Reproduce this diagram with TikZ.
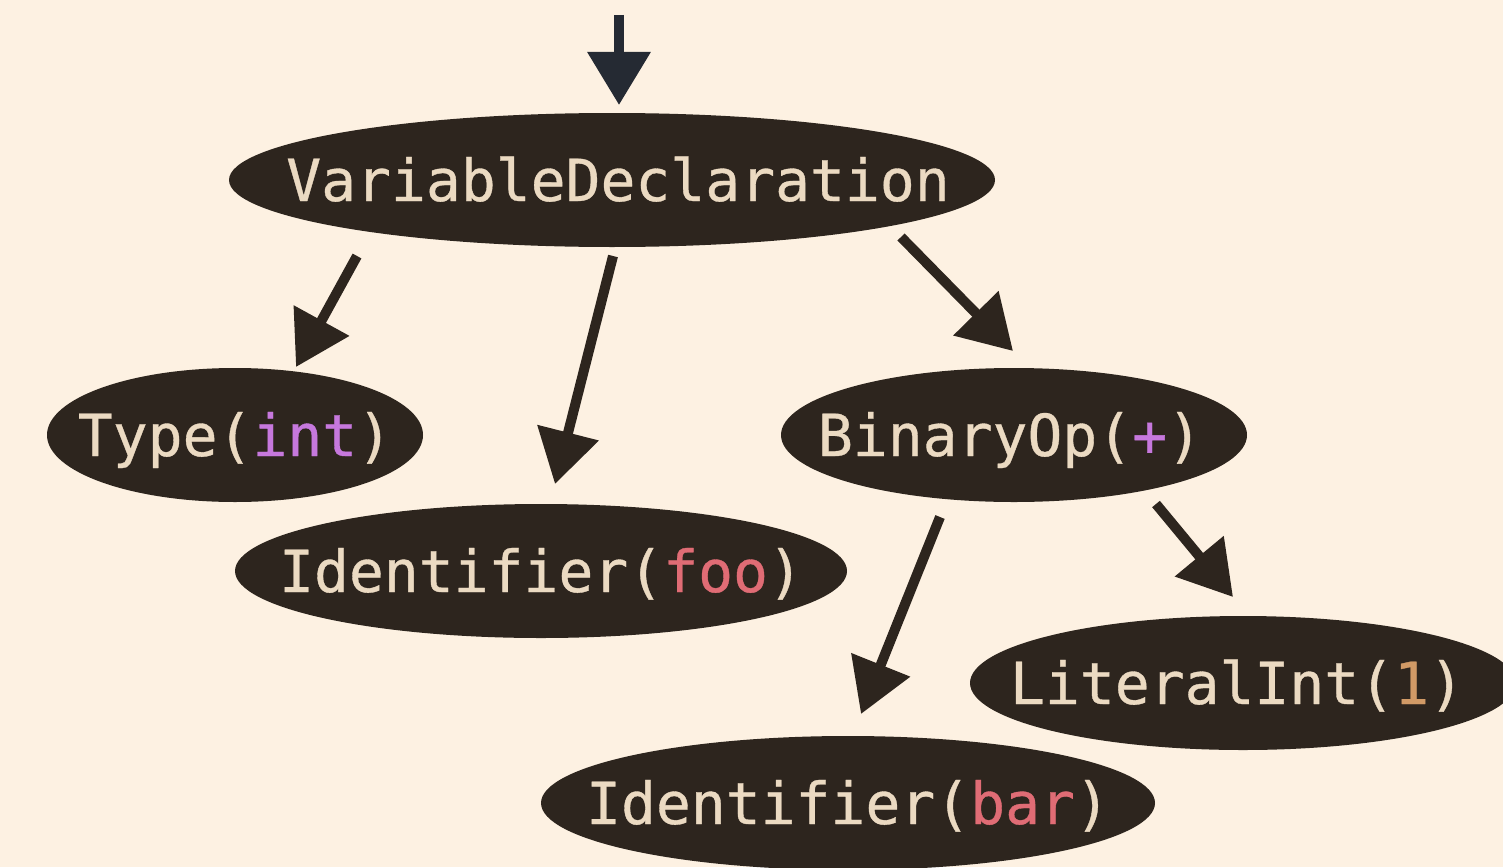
\documentclass[tikz,border=0pt]{standalone}
\usepackage{fontspec}
\newfontfamily\codefont[FakeBold=0.6]{DejaVu Sans Mono}
\usetikzlibrary{arrows.meta,calc}

\definecolor{paper}{HTML}{FDF1E2}
\definecolor{nodebg}{HTML}{2D251E}
\definecolor{ink}{HTML}{EBDAC2}
\definecolor{kw}{HTML}{C678DD}
\definecolor{ident}{HTML}{E06C75}
\definecolor{num}{HTML}{D19A66}
\definecolor{entry}{HTML}{252A33}

\tikzset{
  astlabel/.style={inner sep=0pt, text=ink, text height=42pt, text depth=0pt,
    font=\codefont\fontsize{58}{60}\selectfont},
  edge/.style={draw=nodebg, line width=10pt,
    -{Triangle[length=53pt,width=61pt]}},
  entryedge/.style={edge, draw=entry},
}

% filled ellipse with a named label at its centre
\newcommand\astnode[5][0]{%
  \fill[nodebg] (#3) ellipse [x radius=#4, y radius=67];
  \node[astlabel, xshift=#1pt] (#2) at (#3) {#5};}

\begin{document}
\begin{tikzpicture}[x=1pt,y=-1pt]
  \fill[paper] (0,0) rectangle (1503,867);
  \useasboundingbox (0,0) rectangle (1503,867);

  \astnode[6]{vd}{612,180}{383}{VariableDeclaration}
  \astnode{ty}{235,435}{188}{Type(\textcolor{kw}{int})}
  \astnode{foo}{541,571}{306}{Identifier(\textcolor{ident}{foo})}
  \astnode[-4]{bo}{1014,435}{233}{BinaryOp(\textcolor{kw}{+})}
  \astnode[-6]{li}{1243,683}{273}{LiteralInt(\textcolor{num}{1})}
  \astnode{bar}{848,803}{307}{Identifier(\textcolor{ident}{bar})}

  \coordinate (in) at (619,15);
  \draw[entryedge] (in) -- ($(vd)+(1,-75)$);

  \draw[edge] ($(vd)+(-261,76)$) -- ($(ty)+(61,-68)$);
  \draw[edge] ($(vd)+(-5,76)$) -- ($(foo)+(14,-87)$);
  \draw[edge] ($(vd)+(283,57)$) -- ($(bo)+(3,-84)$);
  \draw[edge] ($(bo)+(-70,82)$) -- ($(bar)+(13,-89)$);
  \draw[edge] ($(bo)+(146,69)$) -- ($(li)+(-4,-86)$);
\end{tikzpicture}
\end{document}
